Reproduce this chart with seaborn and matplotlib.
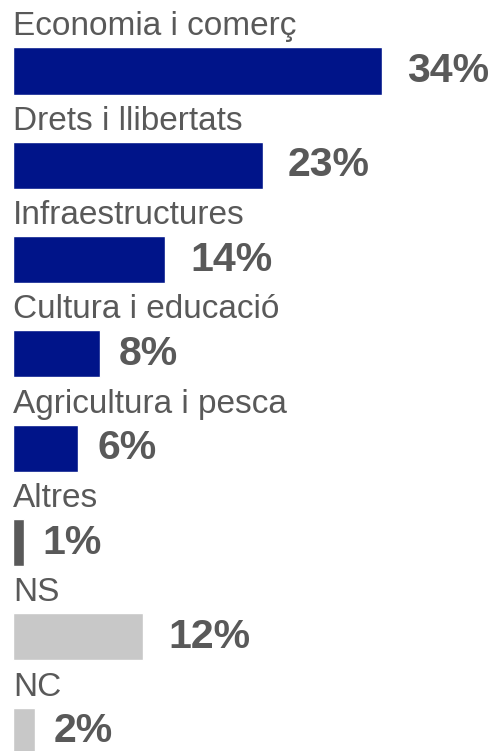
import matplotlib
matplotlib.use("Agg")
import matplotlib.pyplot as plt
import seaborn as sns
import pandas as pd

categories = ["Economia i comerç", "Drets i llibertats", "Infraestructures",
              "Cultura i educació", "Agricultura i pesca", "Altres", "NS", "NC"]
values = [34, 23, 14, 8, 6, 1, 12, 2]
bar_colors = ["#001489", "#001489", "#001489", "#001489", "#001489",
              "#595959", "#c8c8c8", "#c8c8c8"]
value_labels = [f"{v}%" for v in values]

sns.set_theme(style="white")
plt.rcParams["font.family"] = ["Liberation Sans", "DejaVu Sans"]

df = pd.DataFrame({"cat": categories, "val": values})

W, H = 495, 751
fig = plt.figure(figsize=(W / 100, H / 100), dpi=100)
ax = fig.add_axes([0, 0, 1, 1])

sns.barplot(data=df, y="cat", x="val", hue="cat", order=categories,
            hue_order=categories, palette=bar_colors, width=0.5,
            legend=False, ax=ax, saturation=1, orient="h")

px_per_unit = 10.86
row_px = 94.3
ax.set_xlim(-13 / px_per_unit, (W - 13) / px_per_unit)
ax.set_ylim((H - 71) / row_px, -71 / row_px)

text_color = "#595959"
for i, (cat, v, lab) in enumerate(zip(categories, values, value_labels)):
    ax.text(0, i - 0.25 - 12 / row_px, cat, ha="left", va="baseline",
            fontsize=24, color=text_color)
    off = 25 if v >= 10 else 19
    ax.annotate(lab, xy=(v, i), xytext=(off, 0), textcoords="offset pixels",
                ha="left", va="center", fontsize=29.5, fontweight="bold",
                color=text_color)

ax.axis("off")
fig.savefig("out.png", dpi=100)
